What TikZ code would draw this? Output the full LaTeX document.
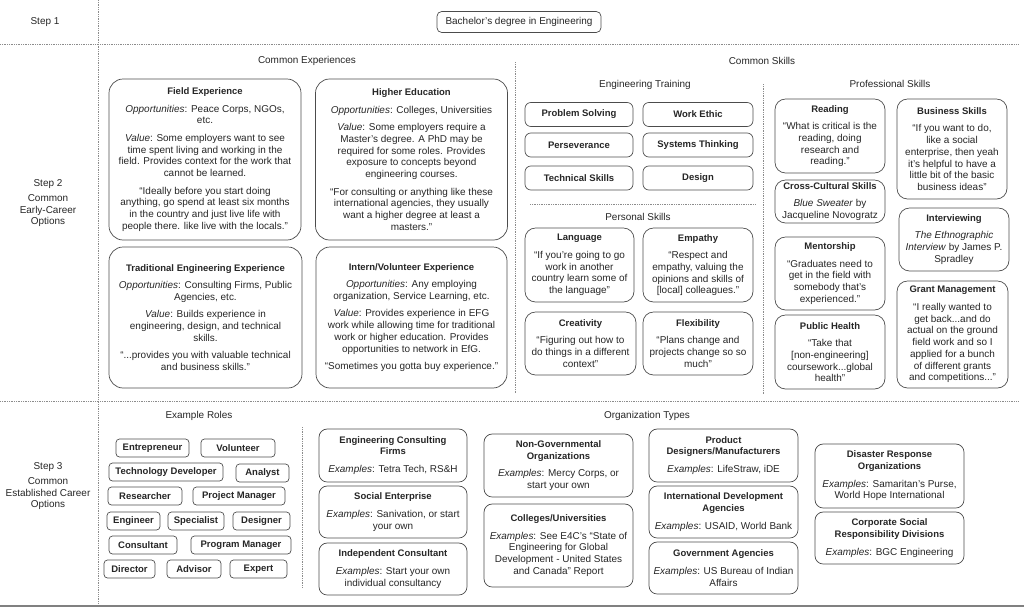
\documentclass[tikz,border=0pt]{standalone}
\usepackage{fontspec}
\setmainfont{Liberation Sans}
\usepackage{tikz}

\newcommand{\boxtitle}[1]{{\fontsize{8.1}{10}\selectfont\bfseries #1}}

\begin{document}
\begin{tikzpicture}[x=0.03cm, y=-0.03cm,
    every node/.style={font=\fontsize{8.5}{10}\selectfont, text=black!85},
    wh/.style 2 args={minimum width=#1*0.03cm, minimum height=#2*0.03cm},
    sep/.style={black!45, densely dotted, line width=0.5pt},
    bigbox/.style={draw=black!70, line width=0.6pt, rounded corners=12pt, align=center, inner sep=2pt},
    medbox/.style={draw=black!70, line width=0.6pt, rounded corners=9pt, align=center, inner sep=2pt},
    orgbox/.style={draw=black!70, line width=0.6pt, rounded corners=7pt, align=center, inner sep=2pt},
    skillbox/.style={draw=black!70, line width=0.6pt, rounded corners=5pt, inner sep=2pt, font=\fontsize{8.1}{10}\selectfont\bfseries},
    rolebox/.style={draw=black!70, line width=0.6pt, rounded corners=3pt, inner sep=2pt, minimum height=18*0.03cm, font=\fontsize{8.1}{10}\selectfont\bfseries}]

    \useasboundingbox (0,0) rectangle (1024,608);

    % Draw the separating lines
    \draw[sep] (98,0) -- (98,604);
    \draw[sep] (0,44) -- (1018,44);
    \draw[sep] (0,401) -- (1018,401);
    \draw[black!50, line width=1.2pt] (0,606) -- (1024,606);
    \draw[sep] (515,62) -- (515,394);
    \draw[sep] (763,84) -- (763,394);
    \draw[sep] (530,204) -- (755,204);
    \draw[sep] (302,427) -- (302,587);

    % Label the steps
    \node (step1) at (45,22) {Step 1};
    \node[align=center] (step2) at (48,203) {Step 2\\[3pt] Common\\ Early-Career\\ Options};
    \node[align=center] (step3) at (48,486) {Step 3\\[3pt] Common\\ Established Career\\ Options};

    % Step 1
    \node[draw=black!70, line width=0.6pt, rounded corners=4pt, wh={164}{21}] (bachelor) at (519,22) {Bachelor’s degree in Engineering};

    % Add headings
    \node (commonexp) at (307,61) {Common Experiences};
    \node (commonskills) at (762,61) {Common Skills};
    \node (engtraining) at (645,85) {Engineering Training};
    \node (personal) at (638,217) {Personal Skills};
    \node (professional) at (890,84) {Professional Skills};
    \node (roles) at (199,416) {Example Roles};
    \node (orgtypes) at (647,416) {Organization Types};

    % Common experiences
    \node[bigbox, wh={192}{161}] (field) at (205,159.5) {\boxtitle{Field Experience}\\[5pt]
        \textit{Opportunities}: Peace Corps, NGOs,\\ etc.\\[5pt]
        \textit{Value}:  Some employers want to see\\ time spent living and working in the\\ field. Provides context for the work that\\ cannot be learned.\\[5pt]
        “Ideally before you start doing\\ anything, go spend at least six months\\ in the country and just live life with\\ people there. like live with the locals.”};
    \node[bigbox, wh={192}{161}] (higher) at (411.5,159.5) {\boxtitle{Higher Education}\\[5pt]
        \textit{Opportunities}: Colleges, Universities\\[5pt]
        \textit{Value}:  Some employers require a\\ Master’s degree. A PhD may be\\ required for some roles. Provides\\ exposure to concepts beyond\\ engineering courses.\\[5pt]
        “For consulting or anything like these\\ international agencies, they usually\\ want a higher degree at least a\\ masters.”};
    \node[bigbox, wh={193}{141}] (traditional) at (205.5,317.5) {\boxtitle{Traditional Engineering Experience}\\[5pt]
        \textit{Opportunities}: Consulting Firms, Public\\ Agencies, etc.\\[5pt]
        \textit{Value}: Builds experience in\\ engineering, design, and technical\\ skills.\\[5pt]
        “...provides you with valuable technical\\ and business skills.”};
    \node[bigbox, wh={191}{141}] (intern) at (411.5,317.5) {\boxtitle{Intern/Volunteer Experience}\\[5pt]
        \textit{Opportunities}:  Any employing\\ organization, Service Learning, etc.\\[5pt]
        \textit{Value}: Provides experience in EFG\\ work while allowing time for traditional\\ work or higher education. Provides\\ opportunities to network in EfG.\\[5pt]
        “Sometimes you gotta buy experience.”};

    % Engineering training
    \node[skillbox, wh={108}{24}] (problem) at (579,114.5) {Problem Solving};
    \node[skillbox, wh={110}{24}] (ethic) at (698,114.5) {Work Ethic};
    \node[skillbox, wh={108}{24}] (perseverance) at (579,145) {Perseverance};
    \node[skillbox, wh={110}{24}] (systems) at (698,145) {Systems Thinking};
    \node[skillbox, wh={108}{24}] (technical) at (579,178) {Technical Skills};
    \node[skillbox, wh={110}{24}] (design) at (698,178) {Design};

    % Personal skills
    \node[medbox, wh={109}{74}] (language) at (579.5,265) {\boxtitle{Language}\\[5pt]
        “If you’re going to go\\ work in another\\ country learn some of\\ the language”};
    \node[medbox, wh={110}{74}] (empathy) at (698,265) {\boxtitle{Empathy}\\[5pt]
        “Respect and\\ empathy, valuing the\\ opinions and skills of\\ {}[local] colleagues.”};
    \node[medbox, wh={111}{63}] (creativity) at (580.5,343.5) {\boxtitle{Creativity}\\[5pt]
        “Figuring out how to\\ do things in a different\\ context”};
    \node[medbox, wh={110}{63}] (flexibility) at (698,343.5) {\boxtitle{Flexibility}\\[5pt]
        “Plans change and\\ projects change so so\\ much”};

    % Professional skills
    \node[medbox, wh={110}{74}] (reading) at (830,136) {\boxtitle{Reading}\\[5pt]
        “What is critical is the\\ reading, doing\\ research and\\ reading.”};
    \node[medbox, wh={110}{100}] (business) at (952,149) {\boxtitle{Business Skills}\\[5pt]
        “If you want to do,\\ like a social\\ enterprise, then yeah\\ it’s helpful to have a\\ little bit of the basic\\ business ideas”};
    \node[medbox, wh={110}{43}] (crosscultural) at (830,201.5) {\boxtitle{Cross-Cultural Skills}\\[5pt]
        \textit{Blue Sweater} by\\ Jacqueline Novogratz};
    \node[medbox, wh={110}{63}] (interviewing) at (954,239.5) {\boxtitle{Interviewing}\\[5pt]
        \textit{The Ethnographic}\\ \textit{Interview} by James P.\\ Spradley};
    \node[medbox, wh={110}{73}] (mentorship) at (830,273.5) {\boxtitle{Mentorship}\\[5pt]
        “Graduates need to\\ get in the field with\\ somebody that’s\\ experienced.”};
    \node[medbox, wh={110}{74}] (health) at (830,352) {\boxtitle{Public Health}\\[5pt]
        “Take that\\ {}[non-engineering]\\ coursework...global\\ health”};
    \node[medbox, wh={111}{107}] (grant) at (952.5,334.5) {\boxtitle{Grant Management}\\[5pt]
        “I really wanted to\\ get back...and do\\ actual on the ground\\ field work and so I\\ applied for a bunch\\ of different grants\\ and competitions...”};

    % Example roles
    \node[rolebox, minimum width=73*0.03cm] (entrepreneur) at (152.5,448) {Entrepreneur};
    \node[rolebox, minimum width=74*0.03cm] (volunteer) at (238,448) {Volunteer};
    \node[rolebox, minimum width=114*0.03cm] (techdev) at (166,472) {Technology Developer};
    \node[rolebox, minimum width=53*0.03cm] (analyst) at (262.5,473) {Analyst};
    \node[rolebox, minimum width=74*0.03cm] (researcher) at (145,496) {Researcher};
    \node[rolebox, minimum width=92*0.03cm] (projman) at (239,496) {Project Manager};
    \node[rolebox, minimum width=53*0.03cm] (engineer) at (133.5,521) {Engineer};
    \node[rolebox, minimum width=56*0.03cm] (specialist) at (196,521) {Specialist};
    \node[rolebox, minimum width=57*0.03cm] (designer) at (261.5,521) {Designer};
    \node[rolebox, minimum width=68*0.03cm] (consultant) at (143,545) {Consultant};
    \node[rolebox, minimum width=100*0.03cm] (progman) at (241,545) {Program Manager};
    \node[rolebox, minimum width=51*0.03cm] (director) at (129.5,569) {Director};
    \node[rolebox, minimum width=54*0.03cm] (advisor) at (194,569) {Advisor};
    \node[rolebox, minimum width=57*0.03cm] (expert) at (258.5,569) {Expert};

    % Organization types
    \node[orgbox, wh={148}{53}] (consulting) at (393,455.5) {\boxtitle{Engineering Consulting}\\ \boxtitle{Firms}\\[5pt]
        \textit{Examples}: Tetra Tech, RS\&H};
    \node[orgbox, wh={148}{52}] (social) at (393,512) {\boxtitle{Social Enterprise}\\[5pt]
        \textit{Examples}: Sanivation, or start\\ your own};
    \node[orgbox, wh={148}{52}] (independent) at (393,569) {\boxtitle{Independent Consultant}\\[5pt]
        \textit{Examples}: Start your own\\ individual consultancy};
    \node[orgbox, wh={149}{63}] (ngo) at (558.5,465.5) {\boxtitle{Non-Governmental}\\ \boxtitle{Organizations}\\[5pt]
        \textit{Examples}: Mercy Corps, or\\ start your own};
    \node[orgbox, wh={149}{83}] (colleges) at (558.5,545.5) {\boxtitle{Colleges/Universities}\\[5pt]
        \textit{Examples}: See E4C’s “State of\\ Engineering for Global\\ Development - United States\\ and Canada” Report};
    \node[orgbox, wh={149}{53}] (product) at (723.5,455.5) {\boxtitle{Product}\\ \boxtitle{Designers/Manufacturers}\\[5pt]
        \textit{Examples}: LifeStraw, iDE};
    \node[orgbox, wh={149}{52}] (intldev) at (723.5,512) {\boxtitle{International Development}\\ \boxtitle{Agencies}\\[5pt]
        \textit{Examples}: USAID, World Bank};
    \node[orgbox, wh={149}{52}] (government) at (723.5,568) {\boxtitle{Government Agencies}\\[5pt]
        \textit{Examples}: US Bureau of Indian\\ Affairs};
    \node[orgbox, wh={149}{64}] (disaster) at (889.5,476) {\boxtitle{Disaster Response}\\ \boxtitle{Organizations}\\[5pt]
        \textit{Examples}: Samaritan’s Purse,\\ World Hope International};
    \node[orgbox, wh={149}{52}] (csr) at (889.5,538) {\boxtitle{Corporate Social}\\ \boxtitle{Responsibility Divisions}\\[5pt]
        \textit{Examples}: BGC Engineering};
\end{tikzpicture}
\end{document}
